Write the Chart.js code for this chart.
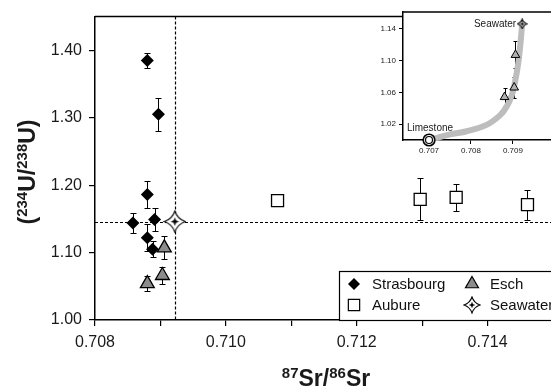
<!DOCTYPE html>
<html>
<head>
<meta charset="utf-8">
<script src="https://cdn.jsdelivr.net/npm/chart.js@4.4.1/dist/chart.umd.min.js"></script>
<style>
  html, body { margin: 0; padding: 0; background: #fff; overflow: hidden; }
  #wrap { position: relative; width: 580px; height: 389px; overflow: hidden; }
  #mainBox { position: absolute; left: 0; top: 0; width: 560px; height: 389px; }
  #insetBox { position: absolute; left: 360px; top: 0; width: 200px; height: 160px; }
</style>
</head>
<body>
<div id="wrap">
  <div id="mainBox"><canvas id="mainChart" width="560" height="389"></canvas></div>
  <div id="insetBox"><canvas id="insetChart" width="200" height="160"></canvas></div>
</div>
<script>
// Strasbourg
const strasX = [0.70880, 0.70897, 0.70880, 0.70858, 0.70891, 0.70880, 0.70888];
const strasY = [1.385, 1.305, 1.186, 1.144, 1.149, 1.122, 1.105];
const strasErr = [0.011, 0.025, 0.020, 0.015, 0.017, 0.020, 0.012];
// Aubure
const aubX = [0.71079, 0.71297, 0.71352, 0.71461];
const aubY = [1.177, 1.179, 1.182, 1.171];
const aubErr = [0, 0.031, 0.020, 0.022];
// Esch
const eschX = [0.70906, 0.70903, 0.70880];
const eschY = [1.107, 1.066, 1.054];
const eschErr = [0.017, 0.013, 0.011];
// Seawater
const seaX = [0.70922];
const seaY = [1.146];
// inset: limestone -> seawater mixing curve
const mixX = [0.70700, 0.70750, 0.70790, 0.70837, 0.70869, 0.70885, 0.70897, 0.70905, 0.70913, 0.70918, 0.70922];
const mixY = [1.000, 1.007, 1.011, 1.019, 1.031, 1.042, 1.056, 1.073, 1.098, 1.122, 1.146];
const limeX = [0.70700];
const limeY = [1.000];

// ticks
const mainXTicks = [0.708, 0.709, 0.710, 0.711, 0.712, 0.713, 0.714, 0.715];
const mainXLabels = ["0.708", "", "0.710", "", "0.712", "", "0.714", ""];
const mainYTicks = [1.00, 1.10, 1.20, 1.30, 1.40];
const insetXTicks = [0.707, 0.708, 0.709];
const insetYTicks = [1.02, 1.06, 1.10, 1.14];

Chart.defaults.font.family = "'Liberation Sans', Arial, sans-serif";
Chart.defaults.color = "#1a1a1a";
Chart.defaults.animation = false;

function pts(xs, ys) {
  return xs.map((x, i) => ({ x: x, y: ys[i] }));
}

function makeStar(s) {
  const c = document.createElement("canvas");
  c.width = s; c.height = s;
  const g = c.getContext("2d");
  const m = s / 2, r = s / 2 - 1, k = r * 0.25;
  g.beginPath();
  g.moveTo(m, m - r);
  g.quadraticCurveTo(m + k, m - k, m + r, m);
  g.quadraticCurveTo(m + k, m + k, m, m + r);
  g.quadraticCurveTo(m - k, m + k, m - r, m);
  g.quadraticCurveTo(m - k, m - k, m, m - r);
  g.closePath();
  g.fillStyle = "#fff";
  g.fill();
  g.strokeStyle = "#000";
  g.lineWidth = 1.1;
  g.stroke();
  const d = Math.max(1.5, s * 0.12);
  g.beginPath();
  g.moveTo(m, m - d * 1.5);
  g.lineTo(m + d * 0.6, m);
  g.lineTo(m, m + d * 1.5);
  g.lineTo(m - d * 0.6, m);
  g.closePath();
  g.moveTo(m - d * 1.5, m);
  g.lineTo(m, m - d * 0.6);
  g.lineTo(m + d * 1.5, m);
  g.lineTo(m, m + d * 0.6);
  g.closePath();
  g.fillStyle = "#000";
  g.fill();
  return c;
}

function makeTarget(s) {
  const c = document.createElement("canvas");
  c.width = s; c.height = s;
  const g = c.getContext("2d");
  const m = s / 2;
  g.fillStyle = "#fff";
  g.strokeStyle = "#000";
  g.lineWidth = 1.6;
  g.beginPath(); g.arc(m, m, m - 1.2, 0, Math.PI * 2); g.fill(); g.stroke();
  g.lineWidth = 1.2;
  g.beginPath(); g.arc(m, m, m * 0.5, 0, Math.PI * 2); g.stroke();
  return c;
}

const starBig = makeStar(23);
const starLegend = makeStar(18);
const starSmall = makeStar(11);
const target = makeTarget(14);

// error bars, drawn under the markers
const errorBarPlugin = {
  id: "errorBars",
  beforeDatasetsDraw(chart, args, opts) {
    const ctx = chart.ctx;
    const xs = chart.scales.x, ys = chart.scales.y;
    const cap = opts.cap || 3;
    ctx.save();
    ctx.strokeStyle = "#000";
    ctx.lineWidth = 1;
    chart.data.datasets.forEach((ds) => {
      if (!ds.errorBars) return;
      ds.data.forEach((p, i) => {
        const e = ds.errorBars[i];
        if (!e) return;
        const px = Math.round(xs.getPixelForValue(p.x)) + 0.5;
        const top = Math.round(ys.getPixelForValue(p.y + e)) + 0.5;
        const bot = Math.round(ys.getPixelForValue(p.y - e)) + 0.5;
        ctx.beginPath();
        ctx.moveTo(px, top); ctx.lineTo(px, bot);
        ctx.moveTo(px - cap, top); ctx.lineTo(px + cap, top);
        ctx.moveTo(px - cap, bot); ctx.lineTo(px + cap, bot);
        ctx.stroke();
      });
    });
    ctx.restore();
  }
};

// dashed seawater reference lines + frame + axis titles + legend
const mainDecor = {
  id: "mainDecor",
  beforeDatasetsDraw(chart) {
    const ctx = chart.ctx, a = chart.chartArea;
    const px = Math.round(chart.scales.x.getPixelForValue(seaX[0])) + 0.5;
    const py = Math.round(chart.scales.y.getPixelForValue(seaY[0])) + 0.5;
    ctx.save();
    ctx.strokeStyle = "#000";
    ctx.lineWidth = 1.2;
    ctx.setLineDash([3, 2]);
    ctx.beginPath();
    ctx.moveTo(px, a.top); ctx.lineTo(px, a.bottom);
    ctx.moveTo(a.left, py); ctx.lineTo(a.right, py);
    ctx.stroke();
    ctx.restore();
  },
  afterDraw(chart) {
    const ctx = chart.ctx, a = chart.chartArea;
    ctx.save();
    ctx.strokeStyle = "#000";
    ctx.lineWidth = 1.5;
    ctx.beginPath();
    ctx.moveTo(a.left, a.top); ctx.lineTo(a.right, a.top); ctx.lineTo(a.right, a.bottom);
    ctx.stroke();

    // legend box
    const lx = 339, ly = a.bottom - 49;
    ctx.fillStyle = "#fff";
    ctx.fillRect(lx, ly, 240, 49);
    ctx.lineWidth = 1.2;
    ctx.strokeRect(lx + 0.5, ly + 0.5, 240, 49);
    const items = [
      { t: "Strasbourg", x: 354, y: ly + 13, o: { pointStyle: "rectRot", radius: 6, borderWidth: 0 }, f: "#000", s: "#000" },
      { t: "Esch", x: 472, y: ly + 13, o: { pointStyle: "triangle", radius: 7.5, borderWidth: 1.2 }, f: "#8c8c8c", s: "#000" },
      { t: "Aubure", x: 354, y: ly + 34, o: { pointStyle: "rect", radius: 8, borderWidth: 1.2 }, f: "#fff", s: "#000" },
      { t: "Seawater", x: 472, y: ly + 34, o: { pointStyle: starLegend, radius: 9, borderWidth: 0 }, f: "#fff", s: "#000" }
    ];
    ctx.font = "15px 'Liberation Sans', Arial, sans-serif";
    ctx.textBaseline = "middle";
    ctx.textAlign = "left";
    items.forEach((it) => {
      ctx.fillStyle = it.f;
      ctx.strokeStyle = it.s;
      ctx.lineWidth = it.o.borderWidth || 1;
      Chart.helpers.drawPoint(ctx, Object.assign({ rotation: 0 }, it.o), it.x, it.y);
      ctx.fillStyle = "#111";
      ctx.fillText(it.t, it.x + 18, it.y + 1);
    });

    // x title: 87Sr/86Sr
    const big = "bold 23px 'Liberation Sans', Arial, sans-serif";
    const sup = "bold 15px 'Liberation Sans', Arial, sans-serif";
    const xParts = [["87", sup], ["Sr/", big], ["86", sup], ["Sr", big]];
    drawMixed(ctx, xParts, 326, 386);

    // y title: (234U/238U)
    const yParts = [["(", big], ["234", sup], ["U/", big], ["238", sup], ["U)", big]];
    ctx.save();
    ctx.translate(35, 172);
    ctx.rotate(-Math.PI / 2);
    drawMixed(ctx, yParts, 0, 0);
    ctx.restore();
    ctx.restore();
  }
};

function drawMixed(ctx, parts, cx, baseline) {
  let w = 0;
  parts.forEach((p) => { ctx.font = p[1]; w += ctx.measureText(p[0]).width; });
  let x = cx - w / 2;
  ctx.fillStyle = "#1a1a1a";
  ctx.textAlign = "left";
  ctx.textBaseline = "alphabetic";
  parts.forEach((p) => {
    ctx.font = p[1];
    const isSup = p[1].indexOf("15px") >= 0;
    ctx.fillText(p[0], x, baseline - (isSup ? 8 : 0));
    x += ctx.measureText(p[0]).width;
  });
}

const dataMain = {
  datasets: [
    {
      label: "Seawater",
      data: pts(seaX, seaY),
      pointStyle: starBig,
      pointRadius: 11,
    },
    {
      label: "Strasbourg",
      data: pts(strasX, strasY),
      errorBars: strasErr,
      pointStyle: "rectRot",
      pointRadius: 6.5,
      backgroundColor: "#000",
      borderColor: "#000",
      borderWidth: 0,
    },
    {
      label: "Esch",
      data: pts(eschX, eschY),
      errorBars: eschErr,
      pointStyle: "triangle",
      pointRadius: 8,
      backgroundColor: "#8c8c8c",
      borderColor: "#000",
      borderWidth: 1.3,
    },
    {
      label: "Aubure",
      data: pts(aubX, aubY),
      errorBars: aubErr,
      pointStyle: "rect",
      pointRadius: 8.5,
      backgroundColor: "#fff",
      borderColor: "#000",
      borderWidth: 1.3,
    },
  ],
};

const configMain = {
  type: "scatter",
  data: dataMain,
  options: {
    responsive: false,
    layout: { autoPadding: false, padding: { left: 0, right: 3, top: 12, bottom: 0 } },
    plugins: {
      legend: { display: false },
      tooltip: { enabled: false },
      errorBars: { cap: 3 },
    },
    scales: {
      x: {
        type: "linear",
        min: 0.708,
        max: 0.715,
        afterBuildTicks: (s) => { s.ticks = mainXTicks.map((v) => ({ value: v })); },
        afterFit: (s) => { s.height = 69; },
        grid: { display: true, drawOnChartArea: false, drawTicks: true, tickLength: 6, color: "#000", lineWidth: 1.2 },
        border: { display: true, color: "#000", width: 1.5 },
        ticks: {
          font: { size: 16 },
          padding: 7,
          maxRotation: 0,
          autoSkip: false,
          callback: (v, i) => mainXLabels[i],
        },
      },
      y: {
        type: "linear",
        min: 1.0,
        max: 1.45,
        afterBuildTicks: (s) => { s.ticks = mainYTicks.map((v) => ({ value: v })); },
        afterFit: (s) => { s.width = 95; },
        grid: { display: true, drawOnChartArea: false, drawTicks: true, tickLength: 6, color: "#000", lineWidth: 1.2 },
        border: { display: true, color: "#000", width: 1.5 },
        ticks: {
          font: { size: 16 },
          padding: 7,
          callback: (v) => v.toFixed(2),
        },
      },
    },
  },
  plugins: [errorBarPlugin, mainDecor],
};

const mainChart = new Chart(document.getElementById("mainChart"), configMain);

// inset
const insetDecor = {
  id: "insetDecor",
  beforeDraw(chart) {
    const ctx = chart.ctx, a = chart.chartArea;
    ctx.save();
    ctx.fillStyle = "#fff";
    ctx.fillRect(a.left, a.top, a.right - a.left, a.bottom - a.top);
    ctx.restore();
  },
  afterDraw(chart) {
    const ctx = chart.ctx, a = chart.chartArea;
    const xs = chart.scales.x, ys = chart.scales.y;
    ctx.save();
    ctx.strokeStyle = "#000";
    ctx.lineWidth = 1.5;
    ctx.beginPath();
    ctx.moveTo(a.left, a.top); ctx.lineTo(a.right, a.top); ctx.lineTo(a.right, a.bottom);
    ctx.stroke();
    ctx.font = "10px 'Liberation Sans', Arial, sans-serif";
    ctx.fillStyle = "#1a1a1a";
    ctx.textBaseline = "middle";
    ctx.textAlign = "right";
    ctx.fillText("Seawater", xs.getPixelForValue(seaX[0]) - 6, ys.getPixelForValue(seaY[0]));
    ctx.textAlign = "center";
    ctx.textBaseline = "alphabetic";
    ctx.fillText("Limestone", xs.getPixelForValue(limeX[0]) + 1, ys.getPixelForValue(limeY[0]) - 9);
    ctx.restore();
  }
};

const dataInset = {
  datasets: [
    {
      label: "Seawater",
      data: pts(seaX, seaY),
      pointStyle: starSmall,
      pointRadius: 6,
      clip: false,
    },
    {
      label: "Limestone",
      data: pts(limeX, limeY),
      pointStyle: target,
      pointRadius: 7,
      clip: false,
    },
    {
      label: "Esch",
      data: pts(eschX, eschY),
      errorBars: eschErr,
      pointStyle: "triangle",
      pointRadius: 5,
      backgroundColor: "#b0b0b0",
      borderColor: "#000",
      borderWidth: 1,
    },
    {
      label: "mixing",
      type: "line",
      data: pts(mixX, mixY),
      borderColor: "#bdbdbd",
      borderWidth: 6,
      borderCapStyle: "round",
      tension: 0.35,
      pointRadius: 0,
      fill: false,
      clip: false,
    },
  ],
};

const configInset = {
  type: "scatter",
  data: dataInset,
  options: {
    responsive: false,
    layout: { autoPadding: false, padding: { left: 0, right: 3, top: 12, bottom: 0 } },
    plugins: {
      legend: { display: false },
      tooltip: { enabled: false },
      errorBars: { cap: 2 },
    },
    scales: {
      x: {
        type: "linear",
        min: 0.70638,
        max: 0.71005,
        afterBuildTicks: (s) => { s.ticks = insetXTicks.map((v) => ({ value: v })); },
        afterFit: (s) => { s.height = 20; },
        grid: { display: true, drawOnChartArea: false, drawTicks: true, tickLength: 4, color: "#000", lineWidth: 1 },
        border: { display: true, color: "#000", width: 1.5 },
        ticks: { font: { size: 8 }, padding: 2, maxRotation: 0, autoSkip: false, callback: (v) => v.toFixed(3) },
      },
      y: {
        type: "linear",
        min: 1.0,
        max: 1.161,
        afterBuildTicks: (s) => { s.ticks = insetYTicks.map((v) => ({ value: v })); },
        afterFit: (s) => { s.width = 43; },
        grid: { display: true, drawOnChartArea: false, drawTicks: true, tickLength: 4, color: "#000", lineWidth: 1 },
        border: { display: true, color: "#000", width: 1.5 },
        ticks: { font: { size: 8 }, padding: 3, callback: (v) => v.toFixed(2) },
      },
    },
  },
  plugins: [errorBarPlugin, insetDecor],
};

const insetChart = new Chart(document.getElementById("insetChart"), configInset);
</script>
</body>
</html>
